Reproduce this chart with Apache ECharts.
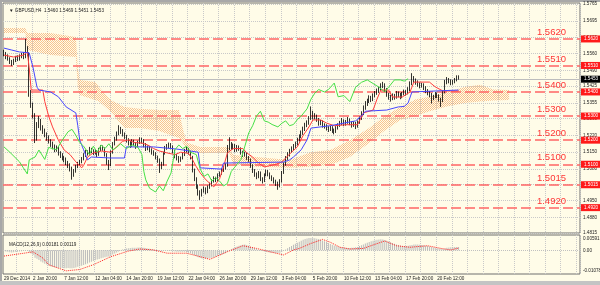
<!DOCTYPE html>
<html><head><meta charset="utf-8">
<script src="https://cdn.jsdelivr.net/npm/echarts@6/dist/echarts.min.js"></script>
<style>html,body{margin:0;padding:0;background:#FFFCE8;overflow:hidden}#c{width:600px;height:285px}</style>
</head><body><div id="c"></div>
<script>
// ---------- data ----------
const xLabels = ['29 Dec 2014','2 Jan 20:00','7 Jan 12:00','12 Jan 04:00','14 Jan 20:00','19 Jan 12:00','22 Jan 04:00','26 Jan 20:00','29 Jan 12:00','3 Feb 04:00','5 Feb 20:00','10 Feb 12:00','13 Feb 04:00','17 Feb 20:00','20 Feb 12:00'];
// [open, close, low, high]
const candles = [
[1.5562,1.5558,1.5548,1.5575],[1.5558,1.5545,1.5536,1.5566],[1.5545,1.5538,1.5530,1.5556],[1.5538,1.5525,1.5516,1.5544],[1.5525,1.5518,1.5508,1.5533],[1.5518,1.5530,1.5512,1.5538],[1.5530,1.5542,1.5524,1.5550],[1.5542,1.5536,1.5528,1.5552],[1.5536,1.5548,1.5530,1.5556],[1.5548,1.5552,1.5540,1.5562],
[1.5552,1.5545,1.5536,1.5566],[1.5545,1.5568,1.5540,1.5620],[1.5568,1.5560,1.5548,1.5590],[1.5560,1.5392,1.5380,1.5565],[1.5392,1.5345,1.5334,1.5408],[1.5345,1.5300,1.5290,1.5356],[1.5300,1.5205,1.5188,1.5312],[1.5205,1.5265,1.5198,1.5275],[1.5265,1.5280,1.5250,1.5300],[1.5280,1.5250,1.5240,1.5288],
[1.5250,1.5238,1.5226,1.5262],[1.5238,1.5222,1.5212,1.5248],[1.5222,1.5210,1.5198,1.5232],[1.5210,1.5195,1.5186,1.5220],[1.5195,1.5185,1.5172,1.5204],[1.5185,1.5172,1.5162,1.5194],[1.5172,1.5160,1.5150,1.5182],[1.5160,1.5168,1.5152,1.5178],[1.5168,1.5145,1.5136,1.5174],[1.5145,1.5138,1.5126,1.5154],
[1.5138,1.5126,1.5116,1.5146],[1.5126,1.5120,1.5108,1.5134],[1.5120,1.5108,1.5096,1.5128],[1.5108,1.5095,1.5084,1.5114],[1.5095,1.5085,1.5070,1.5104],[1.5085,1.5058,1.5036,1.5090],[1.5058,1.5072,1.5048,1.5080],[1.5072,1.5090,1.5065,1.5098],[1.5090,1.5102,1.5084,1.5110],[1.5102,1.5110,1.5094,1.5118],
[1.5110,1.5122,1.5104,1.5130],[1.5122,1.5138,1.5116,1.5146],[1.5138,1.5150,1.5130,1.5160],[1.5150,1.5145,1.5136,1.5158],[1.5145,1.5162,1.5140,1.5172],[1.5162,1.5155,1.5146,1.5168],[1.5155,1.5148,1.5138,1.5162],[1.5148,1.5152,1.5140,1.5160],[1.5152,1.5140,1.5130,1.5158],[1.5140,1.5160,1.5135,1.5168],
[1.5160,1.5172,1.5154,1.5180],[1.5172,1.5165,1.5156,1.5178],[1.5165,1.5140,1.5132,1.5170],[1.5140,1.5110,1.5098,1.5146],[1.5110,1.5098,1.5076,1.5118],[1.5098,1.5150,1.5092,1.5158],[1.5150,1.5185,1.5144,1.5192],[1.5185,1.5205,1.5178,1.5214],[1.5205,1.5225,1.5198,1.5236],[1.5225,1.5245,1.5220,1.5262],
[1.5245,1.5238,1.5226,1.5255],[1.5238,1.5225,1.5215,1.5246],[1.5225,1.5215,1.5205,1.5232],[1.5215,1.5200,1.5190,1.5222],[1.5200,1.5190,1.5178,1.5208],[1.5190,1.5178,1.5168,1.5196],[1.5178,1.5195,1.5172,1.5204],[1.5195,1.5185,1.5175,1.5202],[1.5185,1.5175,1.5164,1.5192],[1.5175,1.5190,1.5170,1.5198],
[1.5190,1.5202,1.5184,1.5212],[1.5202,1.5196,1.5186,1.5210],[1.5196,1.5180,1.5170,1.5204],[1.5180,1.5165,1.5155,1.5188],[1.5165,1.5170,1.5158,1.5178],[1.5170,1.5160,1.5150,1.5176],[1.5160,1.5150,1.5140,1.5166],[1.5150,1.5145,1.5135,1.5158],[1.5145,1.5130,1.5120,1.5150],[1.5130,1.5118,1.5106,1.5136],
[1.5118,1.5090,1.5064,1.5124],[1.5090,1.5100,1.5080,1.5110],[1.5100,1.5145,1.5094,1.5152],[1.5145,1.5168,1.5140,1.5176],[1.5168,1.5175,1.5160,1.5184],[1.5175,1.5180,1.5166,1.5190],[1.5180,1.5172,1.5162,1.5188],[1.5172,1.5155,1.5145,1.5178],[1.5155,1.5135,1.5125,1.5160],[1.5135,1.5128,1.5116,1.5142],
[1.5128,1.5118,1.5106,1.5134],[1.5118,1.5125,1.5110,1.5132],[1.5125,1.5140,1.5120,1.5148],[1.5140,1.5155,1.5134,1.5164],[1.5155,1.5162,1.5148,1.5172],[1.5162,1.5150,1.5140,1.5168],[1.5150,1.5130,1.5120,1.5156],[1.5130,1.5075,1.5066,1.5135],[1.5075,1.5040,1.5030,1.5082],[1.5040,1.5010,1.4998,1.5046],
[1.5010,1.4985,1.4970,1.5016],[1.4985,1.4975,1.4952,1.4992],[1.4975,1.4990,1.4966,1.4998],[1.4990,1.4998,1.4982,1.5008],[1.4998,1.4985,1.4975,1.5004],[1.4985,1.5005,1.4980,1.5012],[1.5005,1.5015,1.4998,1.5024],[1.5015,1.5030,1.5008,1.5038],[1.5030,1.5042,1.5024,1.5050],[1.5042,1.5035,1.5026,1.5048],
[1.5035,1.5055,1.5030,1.5062],[1.5055,1.5062,1.5048,1.5070],[1.5062,1.5075,1.5056,1.5084],[1.5075,1.5085,1.5068,1.5094],[1.5085,1.5095,1.5078,1.5104],[1.5095,1.5165,1.5090,1.5180],[1.5165,1.5185,1.5158,1.5212],[1.5185,1.5170,1.5160,1.5192],[1.5170,1.5178,1.5162,1.5186],[1.5178,1.5160,1.5150,1.5184],
[1.5160,1.5172,1.5152,1.5180],[1.5172,1.5165,1.5156,1.5178],[1.5165,1.5150,1.5140,1.5170],[1.5150,1.5140,1.5130,1.5156],[1.5140,1.5145,1.5132,1.5152],[1.5145,1.5128,1.5118,1.5150],[1.5128,1.5120,1.5110,1.5134],[1.5120,1.5095,1.5085,1.5124],[1.5095,1.5075,1.5064,1.5100],[1.5075,1.5060,1.5048,1.5080],
[1.5060,1.5048,1.5038,1.5066],[1.5048,1.5065,1.5042,1.5072],[1.5065,1.5040,1.5030,1.5070],[1.5040,1.5030,1.5020,1.5046],[1.5030,1.5055,1.5026,1.5062],[1.5055,1.5070,1.5050,1.5078],[1.5070,1.5060,1.5050,1.5076],[1.5060,1.5048,1.5038,1.5066],[1.5048,1.5040,1.5030,1.5054],[1.5040,1.5030,1.5020,1.5046],
[1.5030,1.5022,1.5010,1.5036],[1.5022,1.5010,1.4994,1.5028],[1.5010,1.5030,1.5004,1.5038],[1.5030,1.5065,1.5024,1.5072],[1.5065,1.5100,1.5060,1.5108],[1.5100,1.5125,1.5094,1.5134],[1.5125,1.5140,1.5118,1.5150],[1.5140,1.5155,1.5132,1.5164],[1.5155,1.5165,1.5148,1.5174],[1.5165,1.5175,1.5158,1.5184],
[1.5175,1.5185,1.5168,1.5194],[1.5185,1.5200,1.5178,1.5210],[1.5200,1.5215,1.5194,1.5224],[1.5215,1.5230,1.5208,1.5240],[1.5230,1.5245,1.5222,1.5256],[1.5245,1.5262,1.5238,1.5272],[1.5262,1.5270,1.5254,1.5282],[1.5270,1.5290,1.5264,1.5300],[1.5290,1.5310,1.5284,1.5340],[1.5310,1.5295,1.5286,1.5322],
[1.5295,1.5300,1.5286,1.5312],[1.5300,1.5285,1.5276,1.5306],[1.5285,1.5270,1.5260,1.5292],[1.5270,1.5275,1.5262,1.5284],[1.5275,1.5262,1.5252,1.5282],[1.5262,1.5258,1.5248,1.5270],[1.5258,1.5250,1.5240,1.5266],[1.5250,1.5245,1.5234,1.5258],[1.5245,1.5252,1.5238,1.5260],[1.5252,1.5240,1.5230,1.5258],
[1.5240,1.5235,1.5224,1.5248],[1.5235,1.5250,1.5230,1.5258],[1.5250,1.5262,1.5244,1.5270],[1.5262,1.5270,1.5255,1.5280],[1.5270,1.5280,1.5262,1.5292],[1.5280,1.5268,1.5258,1.5286],[1.5268,1.5275,1.5260,1.5284],[1.5275,1.5285,1.5268,1.5296],[1.5285,1.5272,1.5262,1.5290],[1.5272,1.5262,1.5252,1.5278],
[1.5262,1.5270,1.5255,1.5278],[1.5270,1.5258,1.5246,1.5276],[1.5258,1.5275,1.5252,1.5282],[1.5275,1.5290,1.5268,1.5298],[1.5290,1.5310,1.5284,1.5320],[1.5310,1.5335,1.5304,1.5344],[1.5335,1.5350,1.5326,1.5362],[1.5350,1.5362,1.5342,1.5372],[1.5362,1.5375,1.5354,1.5386],[1.5375,1.5368,1.5358,1.5384],
[1.5368,1.5385,1.5362,1.5394],[1.5385,1.5395,1.5378,1.5404],[1.5395,1.5405,1.5388,1.5414],[1.5405,1.5412,1.5396,1.5422],[1.5412,1.5425,1.5405,1.5436],[1.5425,1.5430,1.5416,1.5442],[1.5430,1.5410,1.5400,1.5436],[1.5410,1.5390,1.5380,1.5416],[1.5390,1.5380,1.5368,1.5396],[1.5380,1.5372,1.5360,1.5388],
[1.5372,1.5385,1.5366,1.5394],[1.5385,1.5378,1.5368,1.5392],[1.5378,1.5395,1.5372,1.5404],[1.5395,1.5388,1.5378,1.5402],[1.5388,1.5380,1.5370,1.5396],[1.5380,1.5392,1.5374,1.5400],[1.5392,1.5400,1.5386,1.5410],[1.5400,1.5395,1.5385,1.5408],[1.5395,1.5410,1.5390,1.5420],[1.5410,1.5435,1.5404,1.5444],
[1.5435,1.5455,1.5428,1.5478],[1.5455,1.5448,1.5438,1.5466],[1.5448,1.5440,1.5430,1.5456],[1.5440,1.5432,1.5422,1.5448],[1.5432,1.5425,1.5415,1.5440],[1.5425,1.5430,1.5418,1.5438],[1.5430,1.5418,1.5408,1.5436],[1.5418,1.5405,1.5395,1.5424],[1.5405,1.5398,1.5386,1.5412],[1.5398,1.5390,1.5378,1.5404],
[1.5390,1.5375,1.5352,1.5396],[1.5375,1.5380,1.5366,1.5388],[1.5380,1.5392,1.5374,1.5400],[1.5392,1.5385,1.5375,1.5398],[1.5385,1.5370,1.5360,1.5390],[1.5370,1.5365,1.5338,1.5376],[1.5365,1.5400,1.5358,1.5408],[1.5400,1.5440,1.5394,1.5450],[1.5440,1.5450,1.5432,1.5462],[1.5450,1.5445,1.5436,1.5458],
[1.5445,1.5438,1.5428,1.5452],[1.5438,1.5442,1.5430,1.5450],[1.5442,1.5450,1.5436,1.5458],[1.5450,1.5460,1.5444,1.5469],[1.5460,1.5453,1.5451,1.5469]
];
// Ichimoku lines: [barIndex, price]
const tenkan = [[0,1.5553],[5,1.5545],[10,1.5553],[12,1.5566],[13,1.5500],[14,1.5408],[20,1.5408],[21,1.5360],[23,1.5300],[25,1.5255],[28,1.5200],[31,1.5159],[34,1.5140],[37,1.5110],[40,1.5085],[41,1.5095],[43,1.5130],[46,1.5147],[50,1.5155],[55,1.5150],[57,1.5165],[59,1.5180],[61,1.5195],[64,1.5201],[67,1.5190],[71,1.5188],[74,1.5180],[77,1.5165],[80,1.5155],[84,1.5147],[88,1.5140],[91,1.5150],[95,1.5145],[97,1.5120],[99,1.5090],[101,1.5064],[104,1.5035],[108,1.5006],[111,1.5040],[113,1.5089],[115,1.5147],[118,1.5165],[123,1.5165],[125,1.5147],[128,1.5130],[131,1.5105],[134,1.5089],[140,1.5100],[143,1.5109],[145,1.5126],[148,1.5150],[151,1.5172],[154,1.5220],[157,1.5255],[159,1.5284],[163,1.5284],[166,1.5271],[170,1.5260],[176,1.5264],[182,1.5264],[185,1.5313],[190,1.5325],[192,1.5370],[194,1.5408],[198,1.5408],[200,1.5379],[205,1.5379],[209,1.5400],[211,1.5441],[219,1.5441],[222,1.5421],[226,1.5404],[234,1.5404]];
const kijun = [[0,1.5582],[4,1.5574],[8,1.5566],[13,1.5562],[15,1.5500],[17,1.5420],[18,1.5408],[24,1.5400],[28,1.5380],[32,1.5338],[37,1.5313],[38,1.5260],[39,1.5200],[41,1.5160],[43,1.5118],[45,1.5130],[55,1.5126],[62,1.5126],[63,1.5172],[77,1.5172],[89,1.5163],[100,1.5150],[101,1.5085],[112,1.5080],[113,1.5105],[144,1.5109],[147,1.5118],[149,1.5130],[153,1.5160],[156,1.5201],[158,1.5250],[168,1.5260],[181,1.5280],[184,1.5300],[186,1.5320],[197,1.5325],[203,1.5338],[206,1.5340],[208,1.5354],[210,1.5400],[211,1.5408],[234,1.5408]];
const chikou = [[0,1.5172],[3,1.5150],[8,1.5110],[10,1.5085],[12,1.5060],[13,1.5118],[16,1.5130],[18,1.5159],[21,1.5120],[23,1.5170],[27,1.5160],[30,1.5200],[33,1.5235],[35,1.5245],[37,1.5220],[39,1.5190],[41,1.5175],[44,1.5140],[46,1.5175],[48,1.5150],[50,1.5180],[52,1.5165],[54,1.5185],[56,1.5160],[58,1.5170],[60,1.5185],[63,1.5165],[66,1.5180],[69,1.5170],[71,1.5140],[72,1.5070],[73,1.5035],[75,1.5000],[78,1.4985],[80,1.5010],[82,1.4990],[84,1.5030],[86,1.5064],[88,1.5160],[90,1.5180],[92,1.5165],[94,1.5175],[96,1.5150],[99,1.5140],[101,1.5080],[103,1.5050],[105,1.5060],[107,1.5030],[109,1.5045],[111,1.5030],[113,1.5010],[115,1.5020],[117,1.5070],[120,1.5100],[122,1.5120],[124,1.5175],[126,1.5230],[128,1.5260],[130,1.5300],[132,1.5320],[134,1.5280],[136,1.5275],[138,1.5265],[141,1.5255],[143,1.5270],[145,1.5280],[147,1.5260],[149,1.5265],[151,1.5285],[153,1.5300],[156,1.5330],[158,1.5370],[160,1.5395],[162,1.5410],[165,1.5400],[167,1.5410],[170,1.5437],[172,1.5380],[175,1.5385],[178,1.5360],[181,1.5420],[184,1.5440],[187,1.5450],[190,1.5435],[193,1.5420],[196,1.5400],[198,1.5420],[201,1.5450],[204,1.5450],[206,1.5445],[208,1.5455]];
const cloudIdx = [0,11,12,24,37,38,39,47,49,55,62,70,80,90,92,94,101,116,118,130,147,158,168,178,188,196,204,212,219,228,237,245,252,260];
const spanA = [1.5665,1.5665,1.5645,1.5645,1.5628,1.5500,1.5450,1.5441,1.5420,1.5367,1.5338,1.5330,1.5325,1.5325,1.5250,1.5190,1.5172,1.5172,1.5138,1.5130,1.5118,1.5150,1.5159,1.5200,1.5250,1.5300,1.5338,1.5370,1.5380,1.5400,1.5421,1.5430,1.5410,1.5408];
const spanB = [1.5645,1.5645,1.5574,1.5553,1.5545,1.5420,1.5387,1.5367,1.5360,1.5317,1.5250,1.5250,1.5238,1.5209,1.5190,1.5160,1.5147,1.5147,1.5097,1.5090,1.5085,1.5090,1.5097,1.5130,1.5188,1.5240,1.5284,1.5300,1.5320,1.5340,1.5354,1.5360,1.5365,1.5367];
// MACD main (histogram), one per bar
const macdMain = [
-0.0004,-0.0006,-0.0008,-0.0010,-0.0011,-0.0010,-0.0008,-0.0007,-0.0006,-0.0005,-0.0004,-0.0002,0.0000,
-0.0010,-0.0016,-0.0024,-0.0038,-0.0044,-0.0050,-0.0058,-0.0064,
-0.0070,-0.0074,-0.0079,-0.0083,-0.0086,-0.0088,-0.0090,-0.0091,-0.0092,-0.0092,
-0.0093,-0.0093,-0.0092,-0.0093,-0.0094,-0.0092,-0.0089,-0.0086,-0.0083,-0.0080,
-0.0076,-0.0072,-0.0068,-0.0064,-0.0060,-0.0056,-0.0052,-0.0048,-0.0045,-0.0041,
-0.0038,-0.0036,-0.0034,-0.0032,-0.0028,-0.0022,-0.0016,-0.0011,-0.0006,-0.0001,
0.0004,0.0007,0.0009,0.0011,0.0012,0.0013,0.0014,0.0014,0.0015,0.0015,
0.0014,0.0013,0.0012,0.0010,0.0008,0.0006,0.0004,0.0002,0.0000,-0.0003,
-0.0006,-0.0004,-0.0002,-0.0001,-0.0002,-0.0003,-0.0004,-0.0006,-0.0007,-0.0008,
-0.0008,-0.0007,-0.0008,-0.0010,-0.0012,-0.0015,-0.0020,-0.0026,-0.0031,-0.0036,
-0.0040,-0.0042,-0.0043,-0.0042,-0.0041,-0.0040,-0.0038,-0.0036,-0.0033,-0.0030,
-0.0027,-0.0023,-0.0019,-0.0015,-0.0008,0.0000,0.0006,0.0011,0.0016,0.0020,
0.0024,0.0027,0.0029,0.0030,0.0028,0.0024,0.0019,0.0015,0.0011,0.0007,
0.0003,-0.0002,-0.0004,-0.0006,-0.0009,-0.0010,-0.0012,-0.0013,-0.0014,-0.0015,
-0.0014,-0.0012,-0.0008,-0.0002,0.0005,0.0011,0.0017,0.0023,0.0029,0.0035,
0.0040,0.0045,0.0050,0.0055,0.0059,0.0062,0.0064,0.0065,0.0064,0.0063,
0.0061,0.0059,0.0055,0.0051,0.0047,0.0043,0.0038,0.0033,0.0029,0.0025,
0.0022,0.0019,0.0017,0.0015,0.0014,0.0013,0.0012,0.0012,0.0013,0.0014,
0.0016,0.0018,0.0022,0.0026,0.0031,0.0036,0.0040,0.0044,0.0047,0.0050,
0.0053,0.0055,0.0057,0.0058,0.0057,0.0054,0.0050,0.0046,0.0042,0.0038,
0.0034,0.0031,0.0028,0.0025,0.0023,0.0022,0.0022,0.0024,0.0026,0.0028,
0.0030,0.0031,0.0030,0.0029,0.0028,0.0026,0.0024,0.0022,0.0020,0.0018,
0.0015,0.0013,0.0011,0.0009,0.0008,0.0007,0.0010,0.0013,0.0015,0.0016,
0.0017,0.0017,0.0018,0.0018
];
const macdSignal = [[0,-0.0030],[15,-0.0008],[20,-0.0040],[23,-0.0075],[32,-0.0107],[39,-0.0100],[46,-0.0075],[55,-0.0033],[64,-0.0004],[70,0.0007],[77,0.0002],[84,-0.0015],[94,-0.0015],[101,-0.0033],[106,-0.0047],[115,-0.0007],[123,0.0024],[130,0.0010],[140,-0.0015],[144,-0.0024],[149,0.0002],[152,0.0010],[158,0.0036],[164,0.0057],[168,0.0042],[173,0.0016],[178,0.0007],[185,0.0010],[190,0.0028],[196,0.0049],[202,0.0024],[209,0.0016],[218,0.0024],[225,0.0010],[230,0.0002],[234,0.0012]];
const levels = [1.5620,1.5510,1.5400,1.5300,1.5200,1.5100,1.5015,1.4920];
const priceTicks = [1.5765,1.5695,1.5625,1.5560,1.5490,1.5425,1.5355,1.5290,1.5220,1.5150,1.5080,1.5015,1.4950,1.4880,1.4815];
const macdTicks = [0.00591,0,-0.01078];
const macdTickText = ['0.00591','0.00','-0.01078'];
const lastPrice = 1.5453;
const titleText = '\u25BC GBPUSD,H4  1.5460 1.5469 1.5451 1.5453';
const macdText = 'MACD(12,26,9) 0.00181 0.00119';

// ---------- layout ----------
const NB = 297;              // bar slots incl. 26 forward for the cloud
const Y_MIN = 1.48147, Y_MAX = 1.57692;
const M_MIN = -0.01234, M_MAX = 0.0080;
const FONT = 'Liberation Sans, Arial, sans-serif';
const SMALL = 4.6;
const CLEAR = 'rgba(0,0,0,0)';

const cats = []; const labelAt = {};
for (let i = 0; i < NB; i++) cats.push(String(i));
labelAt[0] = xLabels[0];
for (let k = 1; k < xLabels.length; k++) labelAt[15 + 16 * (k - 1)] = xLabels[k];

const lower = cloudIdx.map((x, k) => [x, Math.min(spanA[k], spanB[k])]);
const band = cloudIdx.map((x, k) => [x, Math.abs(spanA[k] - spanB[k])]);

const pc = document.createElement('canvas'); pc.width = 2; pc.height = 2;
const g = pc.getContext('2d');
g.fillStyle = 'rgba(244,160,90,0.62)'; g.fillRect(0, 0, 1, 1); g.fillRect(1, 1, 1, 1);

const chart = echarts.init(document.getElementById('c'));
const gridLine = { color: '#c9c9c9', type: 'dotted', width: 1 };

chart.setOption({
  animation: false,
  backgroundColor: '#FFFCE8',
  textStyle: { fontFamily: FONT },
  title: [
    { text: titleText, left: 4, top: 3, textStyle: { fontSize: SMALL, fontWeight: 'normal', color: '#222', fontFamily: FONT } },
    { text: macdText, left: 4, top: 237, textStyle: { fontSize: SMALL, fontWeight: 'normal', color: '#222', fontFamily: FONT } }
  ],
  grid: [
    { left: 3, top: 3, width: 577, height: 230, show: true, backgroundColor: '#FFFCE8', borderColor: '#6e6e6e', borderWidth: 1 },
    { left: 3, top: 235, width: 577, height: 39, show: true, backgroundColor: '#FFFCE8', borderColor: '#6e6e6e', borderWidth: 1 }
  ],
  graphic: [
    { type: 'rect', silent: true, shape: { x: 0, y: 0, width: 600, height: 2 }, style: { fill: '#a8a8a8' } },
    { type: 'rect', silent: true, shape: { x: 0, y: 0, width: 2, height: 285 }, style: { fill: '#a8a8a8' } },
    { type: 'rect', silent: true, shape: { x: 0, y: 281, width: 600, height: 4 }, style: { fill: '#c4c4c4' } }
  ],
  xAxis: [
    { type: 'category', gridIndex: 0, data: cats, boundaryGap: true,
      axisLine: { show: false }, axisTick: { show: false }, axisLabel: { show: false },
      splitLine: { show: true, interval: (i) => i % 8 === 7, lineStyle: gridLine } },
    { type: 'category', gridIndex: 1, data: cats, boundaryGap: true,
      axisLine: { show: false }, axisTick: { show: false },
      axisLabel: { show: true, interval: 0, formatter: (v, i) => labelAt[i] || '', align: 'left',
        fontSize: SMALL, color: '#222', margin: 2, fontFamily: FONT },
      splitLine: { show: true, interval: (i) => i % 8 === 7, lineStyle: gridLine } }
  ],
  yAxis: [
    { type: 'value', gridIndex: 0, min: Y_MIN, max: Y_MAX, position: 'right',
      axisLine: { show: false }, axisTick: { show: false }, axisLabel: { show: false }, splitLine: { show: false } },
    { type: 'value', gridIndex: 1, min: M_MIN, max: M_MAX, position: 'right',
      axisLine: { show: false }, axisTick: { show: false }, axisLabel: { show: false }, splitLine: { show: false } }
  ],
  series: [
    // price grid lines + axis labels
    { type: 'line', xAxisIndex: 0, yAxisIndex: 0, data: [], z: 1,
      markLine: { silent: true, symbol: 'none', animation: false, z: 1, precision: 5,
        lineStyle: gridLine,
        label: { show: true, position: 'end', distance: 3, fontSize: SMALL, color: '#222', fontFamily: FONT,
          formatter: (p) => Number(p.value).toFixed(4) },
        data: priceTicks.map(v => ({ yAxis: v })) } },
    // cloud
    { type: 'line', xAxisIndex: 0, yAxisIndex: 0, data: lower, stack: 'cloud', symbol: 'none',
      lineStyle: { opacity: 0 }, z: 2 },
    { type: 'line', xAxisIndex: 0, yAxisIndex: 0, data: band, stack: 'cloud', symbol: 'none',
      lineStyle: { opacity: 0 }, areaStyle: { color: { image: pc, repeat: 'repeat' }, opacity: 1 }, z: 2 },
    // current price line
    { type: 'line', xAxisIndex: 0, yAxisIndex: 0, data: [], z: 2,
      markLine: { silent: true, symbol: 'none', animation: false, z: 2, precision: 5,
        lineStyle: { color: '#bdbdbd', type: 'solid', width: 1 }, label: { show: false },
        data: [{ yAxis: lastPrice }] } },
    // level lines with text
    { type: 'line', xAxisIndex: 0, yAxisIndex: 0, data: [], z: 3,
      markLine: { silent: true, symbol: 'none', animation: false, z: 3, precision: 5,
        lineStyle: { color: '#FF6464', type: [10, 4], width: 1.6 },
        label: { show: true, position: 'insideEndTop', distance: [14, 1.5], fontSize: 9.5, color: '#FF3535', fontFamily: FONT,
          formatter: (p) => Number(p.value).toFixed(4) },
        data: levels.map(v => ({ yAxis: v })) } },
    // candles
    { type: 'candlestick', xAxisIndex: 0, yAxisIndex: 0, data: candles, barWidth: 1.2, z: 4,
      itemStyle: { color: '#ffffff', color0: '#000000', borderColor: '#000000', borderColor0: '#000000', borderWidth: 0.8 } },
    { type: 'line', name: 'Tenkan', xAxisIndex: 0, yAxisIndex: 0, data: tenkan, symbol: 'none', z: 5,
      lineStyle: { color: '#FF3C3C', width: 1 } },
    { type: 'line', name: 'Kijun', xAxisIndex: 0, yAxisIndex: 0, data: kijun, symbol: 'none', z: 5,
      lineStyle: { color: '#4646FF', width: 1 } },
    { type: 'line', name: 'Chikou', xAxisIndex: 0, yAxisIndex: 0, data: chikou, symbol: 'none', z: 5,
      lineStyle: { color: '#46E046', width: 1 } },
    // axis tags
    { type: 'line', xAxisIndex: 0, yAxisIndex: 0, data: [], z: 10,
      markLine: { silent: true, symbol: 'none', animation: false, z: 10, precision: 5,
        lineStyle: { color: CLEAR },
        label: { show: true, position: 'end', distance: 1, fontSize: SMALL, color: '#fff', backgroundColor: '#FF1A1A',
          padding: [1, 3, 1, 3], fontFamily: FONT, formatter: (p) => Number(p.value).toFixed(4) },
        data: levels.map(v => ({ yAxis: v })).concat([{ yAxis: lastPrice, label: { backgroundColor: '#000' } }]) } },
    // MACD
    { type: 'bar', xAxisIndex: 1, yAxisIndex: 1, data: macdMain, barWidth: 1, itemStyle: { color: '#bcbcbc' }, z: 3 },
    { type: 'line', xAxisIndex: 1, yAxisIndex: 1, data: macdSignal, symbol: 'none', z: 4,
      lineStyle: { color: '#FF2020', width: 1, type: 'dotted' } },
    { type: 'line', xAxisIndex: 1, yAxisIndex: 1, data: [], z: 2,
      markLine: { silent: true, symbol: 'none', animation: false, z: 2, precision: 6,
        lineStyle: { color: CLEAR },
        label: { show: true, position: 'end', distance: 3, fontSize: SMALL, color: '#222', fontFamily: FONT },
        data: macdTicks.map((v, k) => ({ yAxis: v, label: { formatter: macdTickText[k], color: '#222' },
          lineStyle: v === 0 ? { color: '#c0c0c0', type: 'dotted', width: 1 } : { color: CLEAR } })) } }
  ]
});
</script>
</body></html>
